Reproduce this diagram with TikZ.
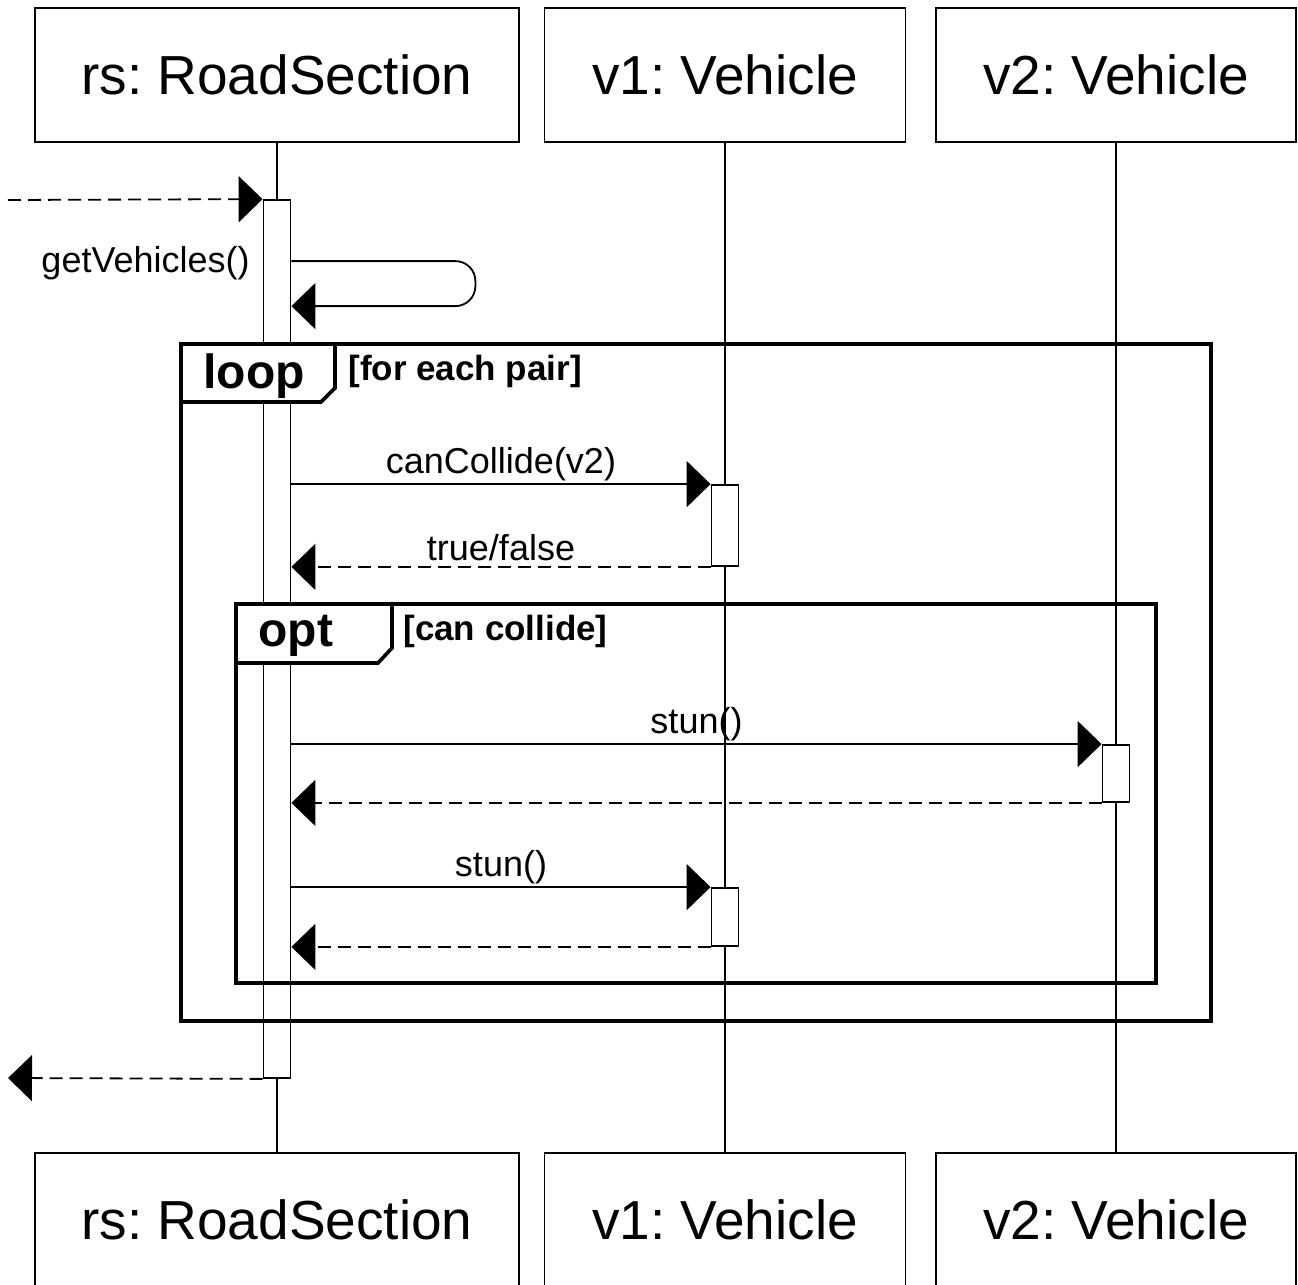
\documentclass[tikz,border=0pt]{standalone}
\usepackage{fontspec}
\setmainfont{Liberation Sans}
\usetikzlibrary{arrows.meta,positioning,calc}
\frenchspacing

\begin{document}
\begin{tikzpicture}[x=0.5pt,y=-0.5pt,
head/.style={draw, line width=0.9pt, minimum height=67pt, inner sep=0pt, font=\fontsize{27.5}{30}\selectfont},
act/.style={draw, fill=white, line width=0.9pt, minimum width=13.5pt, inner sep=0pt},
life/.style={line width=0.9pt},
msg/.style={line width=0.9pt, -{Triangle[length=12pt,width=23pt]}},
ret/.style={msg, dash pattern=on 6.5pt off 3.5pt},
frame/.style={line width=1.8pt},
tab/.style={frame, fill=white},
lbl/.style={font=\fontsize{18}{20}\selectfont, inner sep=1pt},
op/.style={font=\bfseries\fontsize{24}{26}\selectfont, anchor=west, inner sep=0pt},
guard/.style={font=\bfseries\fontsize{17.5}{20}\selectfont, anchor=west, inner sep=0pt}
]
\useasboundingbox (0,0) rectangle (1298,1285);

% lifeline heads
\node[head, minimum width=242pt] (rsT) at (277,75) {rs: RoadSection};
\node[head, minimum width=180.5pt] (v1T) at (725,75) {v1: Vehicle};
\node[head, minimum width=180pt] (v2T) at (1116,75) {v2: Vehicle};
\node[head, minimum width=242pt] (rsB) at (277,1220) {rs: RoadSection};
\node[head, minimum width=180.5pt] (v1B) at (725,1220) {v1: Vehicle};
\node[head, minimum width=180pt] (v2B) at (1116,1220) {v2: Vehicle};
\draw[life] (rsT) -- (rsB);
\draw[life] (v1T) -- (v1B);
\draw[life] (v2T) -- (v2B);

% activations
\node[act, minimum height=439pt] (rsA) at (277,639) {};
\node[act, minimum height=40.5pt] (v1A) at (725,525.5) {};
\node[act, minimum height=28.5pt] (v2A) at (1116,773.5) {};
\node[act, minimum height=29pt] (v1C) at (725,917) {};

% fragments
\draw[frame] (181,344) rectangle (1211,1021);
\draw[tab] (181,344) -- (335,344) -- (335,388) -- (321,402) -- (181,402) -- cycle;
\node[op] (loopL) at (203,376) {loop};
\node[guard] (loopG) at (348,371) {[for each pair]};
\draw[frame] (236,604) rectangle (1156,983);
\draw[tab] (236,604) -- (392,604) -- (392,648) -- (378,663) -- (236,663) -- cycle;
\node[op] (optL) at (258,636) {opt};
\node[guard] (optG) at (403,631) {[can collide]};

% messages
\coordinate (in) at (8,200);
\coordinate (out) at (8,1078);
\draw[ret] (in) -- (rsA.north west);
\node[lbl, anchor=east] (getL) at (252,263) {getVehicles()};
\draw[msg, rounded corners=10pt] ($(rsA.north east)+(0,62)$) -- ++(184,0) -- ++(0,45) -- ($(rsA.north east)+(0,107)$);
\draw[msg] (rsA.east |- v1A.north) -- (v1A.north west) node[lbl, midway, above=0.3pt] {canCollide(v2)};
\draw[ret] (v1A.south west) -- (rsA.east |- v1A.south) node[lbl, midway, above=1.5pt] {true/false};
\draw[msg] (rsA.east |- v2A.north) -- (v2A.north west) node[lbl, midway, above=0.3pt] {stun()};
\draw[ret] (v2A.south west) -- (rsA.east |- v2A.south);
\draw[msg] (rsA.east |- v1C.north) -- (v1C.north west) node[lbl, midway, above=0.3pt] {stun()};
\draw[ret] (v1C.south west) -- (rsA.east |- v1C.south);
\draw[ret] (rsA.south west) -- (out);
\end{tikzpicture}
\end{document}
